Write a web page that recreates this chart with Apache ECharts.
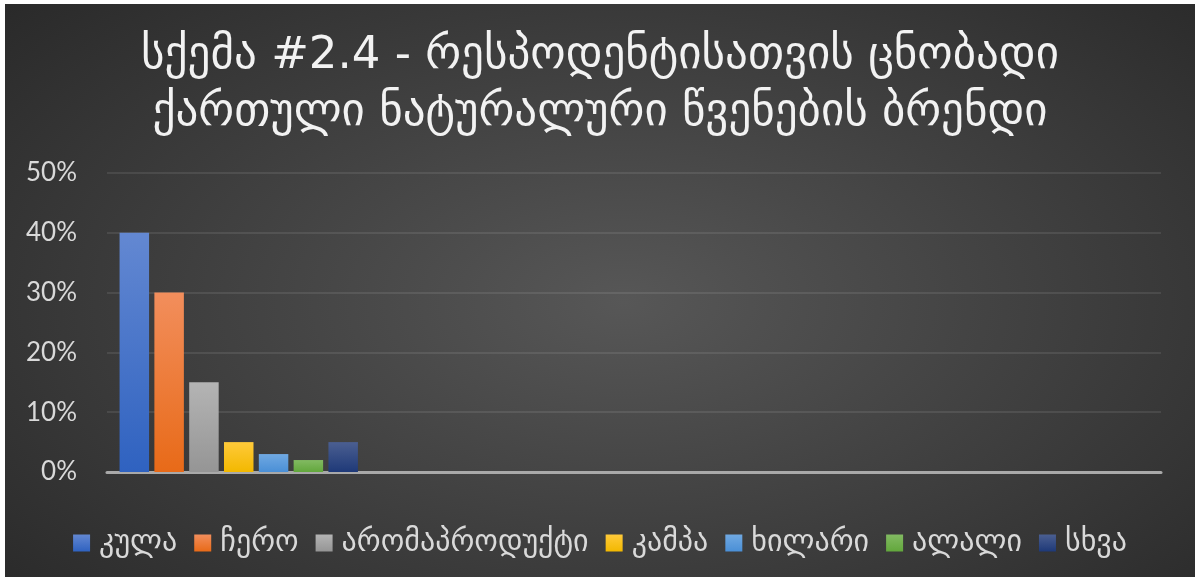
<!DOCTYPE html>
<html><head><meta charset="utf-8">
<script src="https://cdn.jsdelivr.net/npm/echarts@6/dist/echarts.min.js"></script>
<style>
html,body{margin:0;padding:0;background:#fff;width:1195px;height:577px;overflow:hidden;}
#c{position:absolute;left:5px;top:4px;width:1190px;height:573px;
background:radial-gradient(ellipse 75% 85% at 52% 52%, #575757 0%, #3c3c3c 55%, #262626 100%);}
</style></head>
<body><div id="c"></div>
<script>
const titleLines = ['სქემა #2.4 - რესპოდენტისათვის ცნობადი', 'ქართული ნატურალური წვენების ბრენდი'];
const categories = ['1', '2', '3', '4'];
const seriesNames = ['კულა', 'ჩერო', 'არომაპროდუქტი', 'კამპა', 'ხილარი', 'ალალი', 'სხვა'];
const seriesValues = [0.40, 0.30, 0.15, 0.05, 0.03, 0.02, 0.05];
const yTicks = [0, 0.1, 0.2, 0.3, 0.4, 0.5];
const colorTop = ['#6388d2', '#f28e5c', '#b4b4b4', '#ffca3a', '#70a9e2', '#82ba62', '#4b5f91'];
const colorBot = ['#2f62c0', '#e86a18', '#959595', '#f2b800', '#4a8fd6', '#62a73c', '#1e3978'];

const chart = echarts.init(document.getElementById('c'), null, {renderer: 'canvas'});
const geo = "'DejaVu Sans', 'Noto Sans', sans-serif";
const series = seriesNames.map((n, i) => ({
  name: n, type: 'bar',
  data: categories.map((c, k) => k === 0 ? seriesValues[i] : null),
  barWidth: 29.5, barGap: '18%',
  itemStyle: {color: new echarts.graphic.LinearGradient(0, 0, 0, 1, [
    {offset: 0, color: colorTop[i]}, {offset: 1, color: colorBot[i]}])},
  emphasis: {disabled: true}
}));
chart.setOption({
  animation: false,
  backgroundColor: 'transparent',
  title: {
    text: titleLines.join('\n'), left: 'center', top: 19,
    textStyle: {color: '#f2f2f2', fontFamily: geo, fontWeight: 'normal', fontSize: 45, lineHeight: 57}
  },
  legend: {
    data: seriesNames.map(n => ({name: n, icon: 'rect', itemStyle: {}})),
    top: 519, left: 'center', itemWidth: 17, itemHeight: 17, itemGap: 17,
    textStyle: {color: '#d9d9d9', fontFamily: geo, fontSize: 30, padding: [0, 0, 0, 4]}
  },
  grid: {left: 102, right: 34, top: 169, bottom: 105, containLabel: false},
  xAxis: {
    type: 'category', data: categories,
    axisLine: {lineStyle: {color: '#a9a9a9', width: 3}},
    axisTick: {show: false}, axisLabel: {show: false}, splitLine: {show: false}
  },
  yAxis: {
    type: 'value', min: yTicks[0], max: yTicks[yTicks.length - 1], interval: 0.1,
    axisLine: {show: false}, axisTick: {show: false},
    axisLabel: {color: '#d9d9d9', fontSize: 26, fontFamily: 'Lato, sans-serif', margin: 30,
      formatter: v => Math.round(v * 100) + '%'},
    splitLine: {lineStyle: {color: 'rgba(255,255,255,0.12)', width: 1.5}}
  },
  series: series
});
</script></body></html>
